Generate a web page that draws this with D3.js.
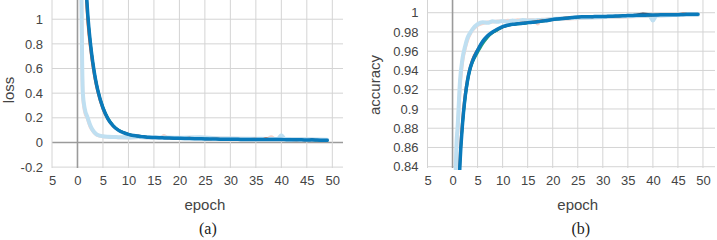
<!DOCTYPE html>
<html>
<head>
<meta charset="utf-8">
<script src="https://cdn.jsdelivr.net/npm/d3@7"></script>
<style>
  body { margin: 0; background: #fff; }
  text { font-family: "Liberation Sans", Arial, sans-serif; fill: #444; }
  .cap { font-family: "Liberation Serif", "Times New Roman", serif; fill: #222; }
</style>
</head>
<body>
<svg id="chart" width="717" height="240"></svg>
<script>
// x ticks (the minus sign on -5 is cut off in the original)
var xTicks = [-5, 0, 5, 10, 15, 20, 25, 30, 35, 40, 45, 50]
var xTickLabels = ['5', '0', '5', '10', '15', '20', '25', '30', '35', '40', '45', '50']

var lossTicks = [-0.2, 0, 0.2, 0.4, 0.6, 0.8, 1]
var lossTickLabels = ['-0.2', '0', '0.2', '0.4', '0.6', '0.8', '1']
var accTicks = [0.84, 0.86, 0.88, 0.9, 0.92, 0.94, 0.96, 0.98, 1]
var accTickLabels = ['0.84', '0.86', '0.88', '0.9', '0.92', '0.94', '0.96', '0.98', '1']

// loss runs
var lossEpochs = [1.5, 2, 2.5, 3, 3.5, 4, 5, 6, 7, 8, 9, 10, 11, 12, 13, 14, 15, 16, 17, 18, 19, 20, 21, 22, 23, 24, 25, 26, 27, 28, 29, 30, 31, 32, 33, 34, 35, 36, 37, 38, 39, 40, 41, 42, 43, 44, 45, 46, 47, 48, 49]
var lossBlue = [1.4, 1.05, 0.82, 0.65, 0.52, 0.42, 0.28, 0.19, 0.135, 0.1, 0.08, 0.066, 0.056, 0.05, 0.046, 0.042, 0.04, 0.038, 0.037, 0.036, 0.035, 0.034, 0.033, 0.032, 0.031, 0.03, 0.029, 0.029, 0.028, 0.027, 0.027, 0.026, 0.026, 0.025, 0.025, 0.024, 0.024, 0.024, 0.025, 0.023, 0.023, 0.024, 0.022, 0.022, 0.021, 0.021, 0.02, 0.021, 0.019, 0.018, 0.017]
var lossOrange = [1.3, 0.96, 0.76, 0.61, 0.49, 0.4, 0.265, 0.182, 0.13, 0.098, 0.078, 0.064, 0.055, 0.048, 0.045, 0.041, 0.039, 0.04, 0.036, 0.035, 0.034, 0.033, 0.032, 0.037, 0.03, 0.029, 0.028, 0.027, 0.03, 0.027, 0.026, 0.025, 0.024, 0.025, 0.023, 0.027, 0.029, 0.022, 0.033, 0.024, 0.022, 0.021, 0.023, 0.02, 0.019, 0.021, 0.018, 0.025, 0.018, 0.017, 0.017]
var lossDark = [1.42, 1.06, 0.83, 0.66, 0.53, 0.43, 0.285, 0.195, 0.138, 0.102, 0.082, 0.068, 0.058, 0.055, 0.047, 0.043, 0.04, 0.038, 0.036, 0.036, 0.034, 0.033, 0.033, 0.031, 0.031, 0.03, 0.029, 0.028, 0.028, 0.027, 0.026, 0.025, 0.025, 0.024, 0.024, 0.023, 0.023, 0.022, 0.026, 0.028, 0.024, 0.022, 0.021, 0.021, 0.02, 0.02, 0.02, 0.019, 0.018, 0.018, 0.017]
var lossGreen = [1.41, 1.05, 0.83, 0.66, 0.53, 0.43, 0.29, 0.2, 0.14, 0.104, 0.082, 0.066, 0.056, 0.05, 0.046, 0.042, 0.04, 0.038, 0.037, 0.036, 0.035, 0.034, 0.033, 0.032, 0.031, 0.03, 0.029, 0.028, 0.028, 0.027, 0.026, 0.026, 0.025, 0.025, 0.024, 0.024, 0.023, 0.023, 0.024, 0.023, 0.022, 0.022, 0.022, 0.021, 0.021, 0.02, 0.02, 0.02, 0.019, 0.018, 0.017]

// faded (validation) loss
var paleLossEpochs = [0.75, 0.9, 1.05, 1.4, 2, 2.5, 3, 3.5, 4, 5, 6, 7, 8, 10, 12, 14, 16.3, 17, 17.7, 20, 24, 27, 30, 34, 37.3, 38, 38.7, 39.3, 40, 40.7, 42, 45, 49]
var paleLossBlue = [1.3, 0.7, 0.4, 0.28, 0.2, 0.14, 0.1, 0.075, 0.06, 0.05, 0.046, 0.044, 0.043, 0.041, 0.045, 0.04, 0.04, 0.041, 0.04, 0.038, 0.042, 0.035, 0.032, 0.03, 0.029, 0.029, 0.029, 0.029, 0.058, 0.028, 0.027, 0.026, 0.022]
var paleLossPink = [1.25, 0.65, 0.38, 0.26, 0.19, 0.13, 0.095, 0.072, 0.058, 0.049, 0.045, 0.043, 0.041, 0.04, 0.042, 0.039, 0.038, 0.055, 0.037, 0.036, 0.035, 0.034, 0.032, 0.03, 0.029, 0.045, 0.029, 0.028, 0.028, 0.027, 0.027, 0.025, 0.022]

// accuracy runs
var accEpochs = [1.3, 1.5, 2, 2.5, 3, 3.5, 4, 5, 6, 7, 8, 9, 10, 11, 12, 13, 14, 15, 16, 17, 18, 19, 20, 21, 22, 23, 24, 25, 26, 27, 28, 29, 30, 31, 32, 33, 34, 35, 36, 37, 38, 39, 40, 41, 42, 43, 44, 45, 46, 47, 48, 49]
var accBlue = [0.82, 0.845, 0.885, 0.912, 0.93, 0.942, 0.95, 0.961, 0.97, 0.976, 0.98, 0.983, 0.9855, 0.987, 0.988, 0.9885, 0.989, 0.9897, 0.99, 0.9905, 0.9915, 0.992, 0.993, 0.9935, 0.994, 0.9945, 0.995, 0.9955, 0.9957, 0.9958, 0.9959, 0.996, 0.996, 0.9962, 0.9964, 0.9966, 0.9968, 0.997, 0.9972, 0.9973, 0.9974, 0.9975, 0.9976, 0.9977, 0.9978, 0.9979, 0.998, 0.998, 0.9982, 0.9983, 0.9984, 0.9985]
var accOrange = [0.83, 0.855, 0.892, 0.917, 0.933, 0.944, 0.952, 0.962, 0.97, 0.976, 0.98, 0.983, 0.985, 0.987, 0.9875, 0.989, 0.9895, 0.99, 0.9905, 0.9915, 0.992, 0.9925, 0.993, 0.9935, 0.9945, 0.995, 0.9955, 0.995, 0.996, 0.996, 0.9955, 0.9965, 0.996, 0.996, 0.9965, 0.9965, 0.997, 0.9975, 0.9972, 0.998, 0.9985, 0.997, 0.9975, 0.998, 0.9978, 0.998, 0.9985, 0.9982, 0.999, 0.9985, 0.9984, 0.9986]
var accDark = [0.818, 0.843, 0.884, 0.91, 0.929, 0.941, 0.949, 0.96, 0.969, 0.975, 0.979, 0.982, 0.985, 0.9865, 0.9875, 0.9885, 0.9888, 0.9895, 0.99, 0.9905, 0.991, 0.992, 0.9928, 0.9935, 0.994, 0.9942, 0.9948, 0.9955, 0.9956, 0.9958, 0.9958, 0.996, 0.996, 0.9962, 0.9963, 0.9965, 0.9968, 0.997, 0.9975, 0.998, 0.999, 0.9985, 0.9975, 0.9976, 0.9978, 0.998, 0.998, 0.998, 0.9982, 0.9984, 0.9985, 0.9985]
var accGreen = [0.82, 0.844, 0.882, 0.908, 0.927, 0.94, 0.948, 0.958, 0.967, 0.974, 0.979, 0.982, 0.985, 0.9865, 0.9875, 0.988, 0.9885, 0.9892, 0.99, 0.9905, 0.991, 0.992, 0.9928, 0.9932, 0.9938, 0.9944, 0.995, 0.9954, 0.9956, 0.9958, 0.9959, 0.996, 0.996, 0.9962, 0.9964, 0.9966, 0.9968, 0.997, 0.9972, 0.9973, 0.9974, 0.9975, 0.9976, 0.9977, 0.9978, 0.9979, 0.998, 0.998, 0.9982, 0.9983, 0.9984, 0.9985]

// faded (validation) accuracy
var paleAccEpochs = [0.5, 0.65, 0.8, 1, 1.5, 2, 2.5, 3, 3.5, 4, 5, 6, 7, 8, 9, 10, 11, 12, 13, 14, 15, 16.3, 17, 17.7, 20, 24, 28, 32, 36, 39.3, 40, 40.7, 44, 49]
var paleAccBlue = [0.8, 0.84, 0.865, 0.88, 0.93, 0.953, 0.965, 0.974, 0.979, 0.983, 0.988, 0.99, 0.9895, 0.991, 0.9905, 0.9915, 0.9905, 0.992, 0.991, 0.9925, 0.992, 0.992, 0.9925, 0.9925, 0.9935, 0.9945, 0.995, 0.996, 0.9965, 0.997, 0.992, 0.997, 0.9975, 0.998]
var paleAccPink = [0.79, 0.83, 0.86, 0.875, 0.925, 0.95, 0.963, 0.972, 0.978, 0.982, 0.987, 0.989, 0.99, 0.9905, 0.991, 0.991, 0.992, 0.9915, 0.9925, 0.992, 0.9925, 0.9925, 0.9885, 0.993, 0.993, 0.994, 0.995, 0.9955, 0.996, 0.9968, 0.997, 0.997, 0.9975, 0.998]

var svg = d3.select('#chart')

function zip(xs, ys) { return xs.map(function(x, i) { return {x: x, y: ys[i]} }) }

function drawPanel(p) {
  var x = d3.scaleLinear().domain(p.xDomain).range(p.xRange)
  var y = d3.scaleLinear().domain(p.yDomain).range([170, 0])
  var g = svg.append('g')

  g.append('clipPath').attr('id', p.id).append('rect')
    .attr('x', p.xRange[0]).attr('y', 0)
    .attr('width', p.xRange[1] - p.xRange[0]).attr('height', 170)

  // grid
  g.selectAll('line.h').data(p.yTicks).enter().append('line')
    .attr('x1', p.xRange[0]).attr('x2', p.xRange[1])
    .attr('y1', function(d) { return y(d) }).attr('y2', function(d) { return y(d) })
    .attr('stroke', function(d) { return d === 0 ? '#9b9b9b' : '#d4d4d4' })
    .attr('stroke-width', function(d) { return d === 0 ? 1.6 : 1 })
  g.selectAll('line.v').data(xTicks).enter().append('line')
    .attr('y1', 0).attr('y2', 168)
    .attr('x1', function(d) { return x(d) }).attr('x2', function(d) { return x(d) })
    .attr('stroke', function(d) { return d === 0 ? '#9b9b9b' : '#d4d4d4' })
    .attr('stroke-width', function(d) { return d === 0 ? 1.6 : 1 })

  // axes (labels only)
  var yAxis = d3.axisLeft(y).tickValues(p.yTicks).tickSize(0).tickPadding(9)
    .tickFormat(function(d, i) { return p.yTickLabels[i] })
  var ya = g.append('g').attr('transform', 'translate(' + p.xRange[0] + ',0)').call(yAxis)
  ya.select('.domain').remove()
  ya.selectAll('text').attr('font-size', 13).attr('font-family', null).attr('fill', '#444')

  var xAxis = d3.axisBottom(x).tickValues(xTicks).tickSize(0).tickPadding(6)
    .tickFormat(function(d, i) { return xTickLabels[i] })
  var xa = g.append('g').attr('transform', 'translate(0,170)').call(xAxis)
  xa.select('.domain').remove()
  xa.selectAll('text').attr('font-size', 13).attr('font-family', null).attr('fill', '#444')

  // lines
  var line = d3.line().x(function(d) { return x(d.x) }).y(function(d) { return y(d.y) })
    .curve(d3.curveMonotoneX)
  var lines = g.append('g').attr('clip-path', 'url(#' + p.id + ')')
  p.series.forEach(function(s) {
    lines.append('path').attr('d', line(zip(s.xs, s.ys)))
      .attr('fill', 'none').attr('stroke', s.color)
      .attr('stroke-width', s.width)
      .attr('stroke-linejoin', 'round').attr('stroke-linecap', 'round')
  })

  var cx = (x(0) + x(50)) / 2
  g.append('text').attr('x', cx).attr('y', 205).attr('dy', '0.35em')
    .attr('text-anchor', 'middle').attr('font-size', 15).text('epoch')
  g.append('text').attr('class', 'cap').attr('x', cx + 3).attr('y', 228).attr('dy', '0.35em')
    .attr('text-anchor', 'middle').attr('font-size', 16).text(p.caption)
  g.append('text').attr('transform', 'translate(' + p.yLabelX + ',' + p.yLabelY + ') rotate(-90)')
    .attr('text-anchor', 'middle').attr('dy', '0.35em').attr('font-size', 15).text(p.yLabel)
}

drawPanel({
  id: 'clip-loss', xDomain: [-5, 52.1], xRange: [52, 343],
  yDomain: [-0.2235, 1.156], yTicks: lossTicks, yTickLabels: lossTickLabels,
  yLabel: 'loss', yLabelX: 8.5, yLabelY: 90, caption: '(a)',
  series: [
    {xs: paleLossEpochs, ys: paleLossPink, color: '#f8d3c9', width: 3.5},
    {xs: paleLossEpochs, ys: paleLossBlue, color: '#bfdff1', width: 4},
    {xs: lossEpochs, ys: lossOrange, color: '#e8652e', width: 2.2},
    {xs: lossEpochs, ys: lossDark, color: '#3e4b5e', width: 2.2},
    {xs: lossEpochs, ys: lossGreen, color: '#23a07a', width: 2.2},
    {xs: lossEpochs, ys: lossBlue, color: '#0a7abb', width: 3.5}
  ]
})

drawPanel({
  id: 'clip-acc', xDomain: [-5, 52.4], xRange: [427.5, 715],
  yDomain: [0.8366, 1.0132], yTicks: accTicks, yTickLabels: accTickLabels,
  yLabel: 'accuracy', yLabelX: 375, yLabelY: 85, caption: '(b)',
  series: [
    {xs: paleAccEpochs, ys: paleAccPink, color: '#f8d3c9', width: 3.5},
    {xs: paleAccEpochs, ys: paleAccBlue, color: '#bfdff1', width: 4},
    {xs: accEpochs, ys: accOrange, color: '#e8652e', width: 2.2},
    {xs: accEpochs, ys: accDark, color: '#3e4b5e', width: 2.2},
    {xs: accEpochs, ys: accGreen, color: '#23a07a', width: 2.2},
    {xs: accEpochs, ys: accBlue, color: '#0a7abb', width: 3.5}
  ]
})
</script>
</body>
</html>
